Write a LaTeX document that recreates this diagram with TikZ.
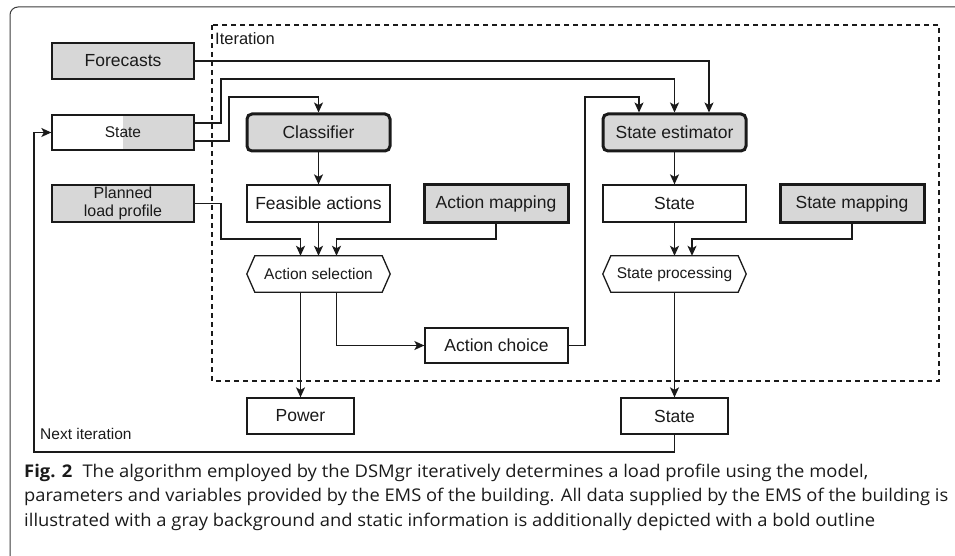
\documentclass[tikz,border=0pt]{standalone}
\usepackage{fontspec}
\usepackage{graphicx}
\setmainfont{Liberation Sans}
\newfontfamily\capfont{Open Sans}
\usetikzlibrary{arrows.meta,calc}

\definecolor{boxgray}{RGB}{215,215,215}
\definecolor{ink}{RGB}{26,26,26}
\definecolor{framegray}{RGB}{60,60,60}

\tikzset{
  base/.style={rectangle, inner sep=0pt, minimum height=37pt, text=ink,
    font=\fontsize{17.5}{20}\selectfont, line width=1.3pt, draw=ink},
  plainbox/.style={base, fill=white},
  databox/.style={base, fill=boxgray},
  staticbox/.style={base, fill=boxgray, line width=3pt},
  staticround/.style={staticbox, rounded corners=5pt},
  hexnode/.style={rectangle, inner sep=0pt, minimum height=36pt, text=ink,
    font=\fontsize{15.5}{18}\selectfont},
  hexline/.style={draw=ink, line width=1.3pt, line join=miter},
  arr/.style={draw=ink, line width=1.3pt,
    -{Stealth[length=10pt,width=9pt,inset=2.5pt]}},
  caption/.style={anchor=base west, inner sep=0pt, text=ink,
    font=\capfont\fontsize{17.5}{21}\selectfont}
}

% caption line set to a given width, height unchanged
\newcommand{\capline}[2]{\resizebox{#1}{\height}{#2}}

\begin{document}
\begin{tikzpicture}[x=1pt, y=-1pt]
\useasboundingbox (0,0) rectangle (955,556);

% open frame around figure and caption
\draw[framegray, line width=1pt, rounded corners=8pt] (10,556) -- (10,7) -- (955,7);

% iteration region
\draw[ink, line width=1.3pt, dash pattern=on 5pt off 4pt] (212,25) rectangle (939,381);
\node[anchor=base west, inner sep=0pt, text=ink, font=\fontsize{16.5}{19}\selectfont] (itlabel) at (215,45) {Iteration};

% inputs on the left
\node[databox, minimum width=142pt, minimum height=36pt] (fc) at (123,61) {Forecasts};
\node[base, minimum width=142pt, minimum height=35pt, font=\fontsize{15.5}{18}\selectfont,
  path picture={\fill[boxgray] (path picture bounding box.north) rectangle (path picture bounding box.south east);}]
  (st0) at (123,132.5) {State};
\node[databox, minimum width=142pt, align=center, font=\fontsize{16}{17.5}\selectfont] (plp) at (123,203.5) {Planned\\load profile};

% action branch
\node[staticround, minimum width=143pt] (cls) at (318.5,132.5) {Classifier};
\node[plainbox, minimum width=143pt] (fa) at (318.5,203.5) {Feasible actions};
\node[staticbox, minimum width=144pt] (am) at (496,203.5) {Action mapping};
\node[hexnode, minimum width=143pt] (as) at (318.5,274) {Action selection};
\draw[hexline] (as.west) -- ([xshift=8pt]as.north west) -- ([xshift=-8pt]as.north east)
  -- (as.east) -- ([xshift=-8pt]as.south east) -- ([xshift=8pt]as.south west) -- cycle;
\node[plainbox, minimum width=143pt, minimum height=35pt] (ac) at (496.5,345.5) {Action choice};
\node[plainbox, minimum width=107pt, minimum height=36pt] (pw) at (300.5,416) {Power};

% state branch
\node[staticround, minimum width=143pt] (se) at (674.5,132.5) {State estimator};
\node[plainbox, minimum width=143pt] (s1) at (674.5,203.5) {State};
\node[staticbox, minimum width=144pt] (sm) at (852,203.5) {State mapping};
\node[hexnode, minimum width=143pt] (sp) at (674.5,274) {State processing};
\draw[hexline] (sp.west) -- ([xshift=8pt]sp.north west) -- ([xshift=-8pt]sp.north east)
  -- (sp.east) -- ([xshift=-8pt]sp.south east) -- ([xshift=8pt]sp.south west) -- cycle;
\node[plainbox, minimum width=107pt, minimum height=36pt] (s2) at (674.5,416) {State};

% feedback label
\node[anchor=base west, inner sep=0pt, text=ink, font=\fontsize{15.5}{18}\selectfont] (nextlbl) at (40,439) {Next iteration};

% connectors
\draw[arr] (fc.east) -| ([xshift=34.5pt]se.north);
\draw[arr] ([yshift=9.5pt]st0.east) -| (221,79) -| (se.north);
\draw[arr] ([yshift=-8.5pt]st0.east) -| (229,97) -| (cls.north);
\draw[arr] (cls.south) -- (fa.north);
\draw[arr] (plp.east) -| (221,239) -| ([xshift=-18pt]as.north);
\draw[arr] (fa.south) -- (as.north);
\draw[arr] (am.south) -- (496,239) -| ([xshift=18pt]as.north);
\draw[arr] ([xshift=-18pt]as.south) -- (pw.north);
\draw[arr] ([xshift=18pt]as.south) |- (ac.west);
\draw[arr] (ac.east) -| (585,97) -| ([xshift=-35.5pt]se.north);
\draw[arr] (se.south) -- (s1.north);
\draw[arr] (s1.south) -- (sp.north);
\draw[arr] (sm.south) -- (852,239) -| ([xshift=17.5pt]sp.north);
\draw[arr] (sp.south) -- (s2.north);
\draw[arr] (s2.south) |- (34,452) |- (st0.west);

% caption
\node[caption] (cap1) at (24,477) {\capline{844pt}{\textbf{Fig. 2}\hspace{0.55em}The algorithm employed by the DSMgr iteratively determines a load profile using the model,}};
\node[caption] (cap2) at (24,501.5) {\capline{924pt}{parameters and variables provided by the EMS of the building. All data supplied by the EMS of the building is}};
\node[caption] (cap3) at (24,526) {\capline{851pt}{illustrated with a gray background and static information is additionally depicted with a bold outline}};
\end{tikzpicture}
\end{document}
